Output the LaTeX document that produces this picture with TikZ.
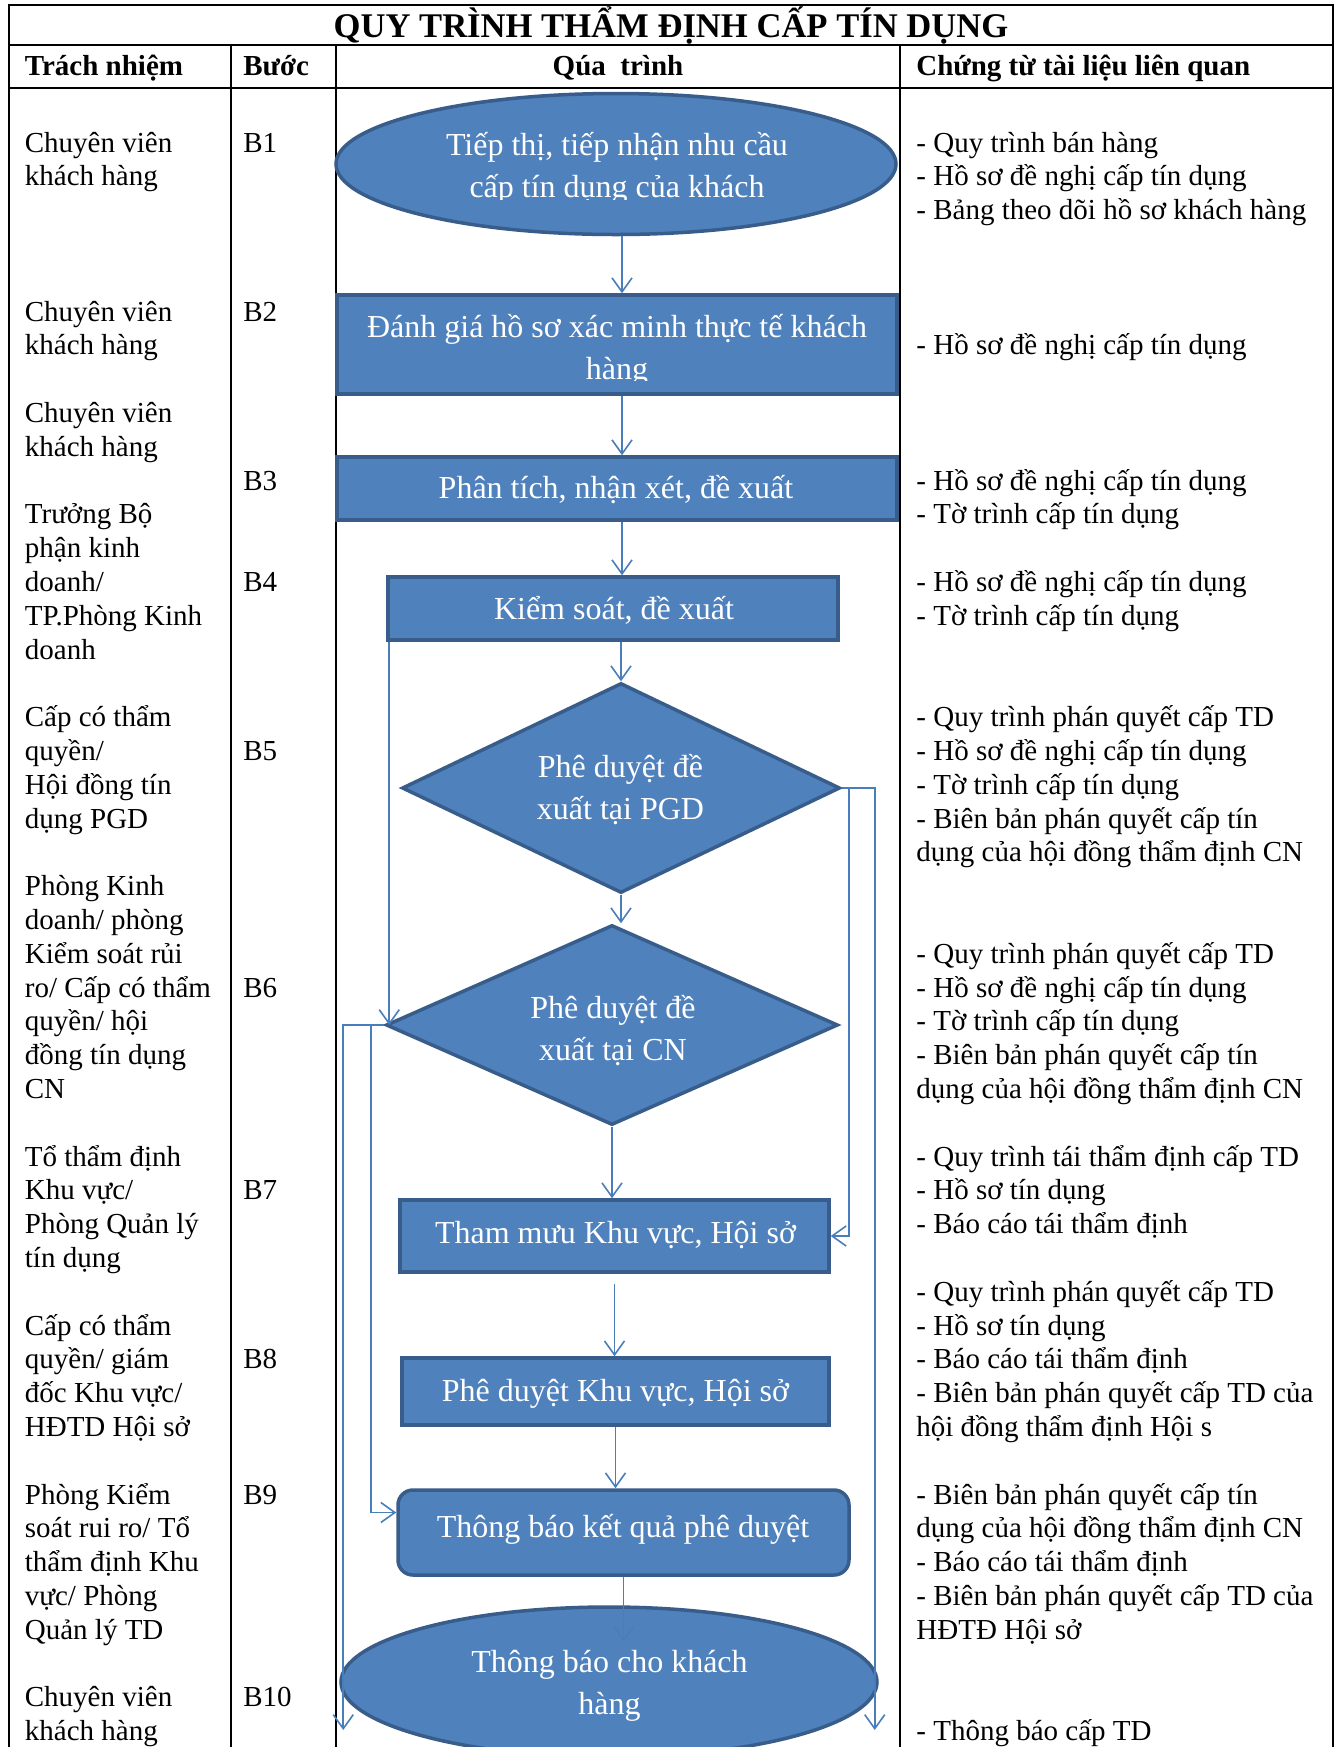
\documentclass[tikz,border=0pt]{standalone}
\usepackage{fontspec}
\setmainfont{Liberation Serif}
\usetikzlibrary{shapes.geometric,arrows.meta}
\definecolor{boxfill}{HTML}{4F81BD}
\definecolor{boxline}{HTML}{385D8A}
\definecolor{arrcol}{HTML}{4A7EBB}
\newcommand\bodyfnt{\fontsize{14.5}{16.9}\selectfont}
\newcommand\flowfnt{\fontsize{16}{21}\selectfont}
\newcommand\titlefnt{\fontsize{17.3}{20}\selectfont\bfseries}
\newcommand\headfnt{\fontsize{14.5}{17}\selectfont\bfseries}
\begin{document}
\begin{tikzpicture}[x=0.5pt,y=-0.5pt,
  grid/.style={line width=1pt, draw=black},
  shp/.style={draw=boxline, fill=boxfill, line width=1.75pt, inner sep=0pt},
  rectbox/.style={shp, rectangle},
  ellbox/.style={shp, ellipse},
  diabox/.style={shp, diamond},
  flowtxt/.style={anchor=base, inner sep=0pt, align=center, text=white, font=\flowfnt},
  coltxt/.style={anchor=base west, inner sep=0pt, align=left, font=\bodyfnt},
  headtxt/.style={inner sep=0pt, font=\headfnt},
  arr/.style={draw=arrcol, line width=0.8pt, -{Straight Barb[length=7pt,width=10pt]}},
  ]
\useasboundingbox (0,0) rectangle (1338,1747);
\clip (0,0) rectangle (1338,1747);
\fill[white] (0,0) rectangle (1338,1747);

% table grid
\draw[grid] (9,1760) -- (9,5) -- (1333,5) -- (1333,1760);
\draw[grid] (9,44.5) -- (1333,44.5);
\draw[grid] (9,88) -- (1333,88);
\foreach \x in {231,336,900} \draw[grid] (\x,44.5) -- (\x,1760);

% title and headers
\node[anchor=base, inner sep=0pt, font=\titlefnt] (title) at (671,37) {QUY TRÌNH THẨM ĐỊNH CẤP TÍN DỤNG};
\node[headtxt, anchor=base west] (h1) at (24.5,75) {Trách nhiệm};
\node[headtxt, anchor=base west] (h2) at (243,75) {Bước};
\node[headtxt, anchor=base] (h3) at (618,75) {Qúa\ \ trình};
\node[headtxt, anchor=base west] (h4) at (916,75) {Chứng từ tài liệu liên quan};

% responsibility column (anchor is the baseline of the last line)
\node[coltxt] (r0) at (24.5,{152+33.8*1}) {Chuyên viên\\khách hàng};
\node[coltxt] (r5) at (24.5,{152+33.8*6}) {Chuyên viên\\khách hàng};
\node[coltxt] (r8) at (24.5,{152+33.8*9}) {Chuyên viên\\khách hàng};
\node[coltxt] (r11) at (24.5,{152+33.8*15}) {Trưởng Bộ\\phận kinh\\doanh/\\TP.Phòng Kinh\\doanh};
\node[coltxt] (r17) at (24.5,{152+33.8*20}) {Cấp có thẩm\\quyền/\\Hội đồng tín\\dụng PGD};
\node[coltxt] (r22) at (24.5,{152+33.8*28}) {Phòng Kinh\\doanh/ phòng\\Kiểm soát rủi\\ro/ Cấp có thẩm\\quyền/ hội\\đồng tín dụng\\CN};
\node[coltxt] (r30) at (24.5,{152+33.8*33}) {Tổ thẩm định\\Khu vực/\\Phòng Quản lý\\tín dụng};
\node[coltxt] (r35) at (24.5,{152+33.8*38}) {Cấp có thẩm\\quyền/ giám\\đốc Khu vực/\\HĐTD Hội sở};
\node[coltxt] (r40) at (24.5,{152+33.8*44}) {Phòng Kiểm\\soát rui ro/ Tổ\\thẩm định Khu\\vực/ Phòng\\Quản lý TD};
\node[coltxt] (r46) at (24.5,{152+33.8*47}) {Chuyên viên\\khách hàng};

% step column
\foreach \k/\s in {0/B1,5/B2,10/B3,13/B4,18/B5,25/B6,31/B7,36/B8,40/B9,46/B10}
  \node[coltxt] (s\s) at (243,{152+33.8*\k}) {\s};

% documents column (anchor is the baseline of the last line)
\node[coltxt] (d0) at (916,{152+33.8*2}) {- Quy trình bán hàng\\- Hồ sơ đề nghị cấp tín dụng\\- Bảng theo dõi hồ sơ khách hàng};
\node[coltxt] (d6) at (916,{152+33.8*6}) {- Hồ sơ đề nghị cấp tín dụng};
\node[coltxt] (d10) at (916,{152+33.8*11}) {- Hồ sơ đề nghị cấp tín dụng\\- Tờ trình cấp tín dụng};
\node[coltxt] (d13) at (916,{152+33.8*14}) {- Hồ sơ đề nghị cấp tín dụng\\- Tờ trình cấp tín dụng};
\node[coltxt] (d17) at (916,{152+33.8*21}) {- Quy trình phán quyết cấp TD\\- Hồ sơ đề nghị cấp tín dụng\\- Tờ trình cấp tín dụng\\- Biên bản phán quyết cấp tín\\dụng của hội đồng thẩm định CN};
\node[coltxt] (d24) at (916,{152+33.8*28}) {- Quy trình phán quyết cấp TD\\- Hồ sơ đề nghị cấp tín dụng\\- Tờ trình cấp tín dụng\\- Biên bản phán quyết cấp tín\\dụng của hội đồng thẩm định CN};
\node[coltxt] (d30) at (916,{152+33.8*32}) {- Quy trình tái thẩm định cấp TD\\- Hồ sơ tín dụng\\- Báo cáo tái thẩm định};
\node[coltxt] (d34) at (916,{152+33.8*38}) {- Quy trình phán quyết cấp TD\\- Hồ sơ tín dụng\\- Báo cáo tái thẩm định\\- Biên bản phán quyết cấp TD của\\hội đồng thẩm định Hội s};
\node[coltxt] (d40) at (916,{152+33.8*44}) {- Biên bản phán quyết cấp tín\\dụng của hội đồng thẩm định CN\\- Báo cáo tái thẩm định\\- Biên bản phán quyết cấp TD của\\HĐTĐ Hội sở};
\node[coltxt] (d47) at (916,{152+33.8*47}) {- Thông báo cấp TD};

% flow shapes
\node[ellbox, minimum width=280pt, minimum height=70.5pt] (B1) at (616,164) {};
\node[rectbox, minimum width=280pt, minimum height=49.5pt] (B2) at (617,344.5) {};
\node[rectbox, minimum width=280pt, minimum height=31.5pt] (B3) at (617,488.5) {};
\node[rectbox, minimum width=225pt, minimum height=31.5pt] (B4) at (613,608.5) {};
\node[diabox, minimum width=219pt, minimum height=105pt] (B5) at (621,788) {};
\node[diabox, minimum width=226pt, minimum height=100pt] (B6) at (612,1025) {};
\node[rectbox, minimum width=214.5pt, minimum height=36pt] (B7) at (614.5,1236) {};
\node[rectbox, minimum width=213.5pt, minimum height=33.5pt] (B8) at (615.5,1391.5) {};
\node[rectbox, rounded corners=7.5pt, minimum width=225.5pt, minimum height=42.5pt] (B9) at (623.5,1532.5) {};
\node[ellbox, minimum width=268pt, minimum height=75pt] (B10) at (609,1682) {};

% flow texts (two-line texts anchored at the baseline of their last line)
\begin{scope}
  \clip (300,90) rectangle (940,199);
  \node[flowtxt] (t1) at (617,197) {Tiếp thị, tiếp nhận nhu cầu\\cấp tín dụng của khách};
\end{scope}
\begin{scope}
  \clip (300,290) rectangle (940,380);
  \node[flowtxt] (t2) at (617,379) {Đánh giá hồ sơ xác minh thực tế khách\\hàng};
\end{scope}
\node[flowtxt] (t3) at (616,498.5) {Phân tích, nhận xét, đề xuất};
\node[flowtxt] (t4) at (614,619) {Kiểm soát, đề xuất};
\node[flowtxt] (t5) at (620.5,819.5) {Phê duyệt đề\\xuất tại PGD};
\node[flowtxt] (t6) at (613,1060) {Phê duyệt đề\\xuất tại CN};
\node[flowtxt] (t7) at (615.5,1243) {Tham mưu Khu vực, Hội sở};
\node[flowtxt] (t8) at (615.5,1401) {Phê duyệt Khu vực, Hội sở};
\node[flowtxt] (t9) at (623,1537) {Thông báo kết quả phê duyệt};
\node[flowtxt] (t10) at (609.5,1714) {Thông báo cho khách\\hàng};

% connectors
\coordinate (bot) at (0,1730);
\draw[arr] ([xshift=3pt]B1.south) -- ([xshift=3pt]B1.south |- B2.north);
\draw[arr] ([xshift=2.5pt]B2.south) -- ([xshift=2.5pt]B2.south |- B3.north);
\draw[arr] ([xshift=2.5pt]B3.south) -- ([xshift=2.5pt]B3.south |- B4.north);
\draw[arr] (B5.north |- B4.south) -- (B5.north);
\draw[arr] (B5.south) -- (B5.south |- B6.north);
\draw[arr] (B6.south) -- (B6.south |- B7.north);
\draw[arr, shorten <=5pt] (B7.south) -- (B7.south |- B8.north);
\draw[arr] (B8.south) -- (B8.south |- B9.north);
\coordinate (t10in) at ([yshift=-18pt]B10.north);
\draw[arr] (B9.south) -- (B9.south |- t10in);

% bypass on the left of B5
\draw[arr] ([xshift=1.5pt]B4.south west) -- ([xshift=1.5pt]B4.south west |- B6.west);

% right side from B5
\coordinate (r1) at ([xshift=16.5pt]B5.east);
\coordinate (r2) at ([xshift=3.5pt]B5.east);
\draw[arr] (B5.east) -- (r1) -- (r1 |- bot);
\draw[arr] (r2) -- (r2 |- B7.east) -- (B7.east);

% left side from B6
\coordinate (l1) at ([xshift=-20.5pt]B6.west);
\coordinate (l2) at ([xshift=-6.5pt]B6.west);
\coordinate (B9w) at ([yshift=10pt]B9.west);
\draw[arr] (B6.west) -- (l1) -- (l1 |- bot);
\draw[arr] (l2) -- (l2 |- B9w) -- (B9w);
\end{tikzpicture}
\end{document}
